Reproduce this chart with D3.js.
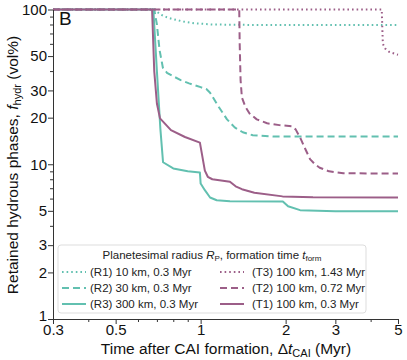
<!DOCTYPE html>
<html><head><meta charset="utf-8">
<script src="https://cdn.jsdelivr.net/npm/d3@7"></script>
<style>body{margin:0;background:#fff}svg{display:block;font-family:"Liberation Sans",Arial,sans-serif}</style>
</head><body><svg id="c" width="407" height="360"></svg>
<script>
// Data (time in Myr after CAI, retained hydrous phases in vol%)
const r1T = [0.3,0.69,0.70,0.72,0.76,0.80,0.87,0.95,1.1,1.5,5];
const r1V = [100,100,97,93,89,86.5,83.5,81.5,80,79.5,79.3];
const r2T = [0.3,0.685,0.70,0.715,0.735,0.76,0.80,0.85,0.91,1.0,1.05,1.08,1.15,1.24,1.32,1.41,1.53,1.8,5];
const r2V = [100,100,80,55,42,39,37,35,33.3,31.5,30.5,29,24,19.5,17.3,16.1,15.4,15.1,15.1];
const r3T = [0.3,0.68,0.70,0.72,0.736,0.80,0.90,0.994,1.0,1.035,1.08,1.14,1.27,1.955,2.04,2.25,3,5];
const r3V = [100,100,40,17,10.3,9.4,9.0,8.83,7.5,6.8,6.1,5.85,5.77,5.75,5.35,5.05,4.97,4.97];
const t3T = [0.3,4.38,4.40,4.42,4.5,4.67,5];
const t3V = [100,100,75,60,56,53,51];
const t2T = [0.3,1.37,1.375,1.385,1.40,1.44,1.49,1.58,1.72,1.9,2.1,2.17,2.25,2.35,2.44,2.54,2.64,2.85,3.2,5];
const t2V = [100,100,60,35,27,23.5,21.3,19.5,18.4,17.9,17.6,16.8,14.9,12.5,10.8,10,9.5,9.0,8.75,8.7];
const t1T = [0.3,0.673,0.685,0.70,0.718,0.785,0.88,0.994,1.01,1.035,1.06,1.1,1.27,1.33,1.4,1.55,1.95,2.5,5];
const t1V = [100,100,40,24.7,19.8,16.6,15,13.8,11.7,9.1,8.3,8.0,7.7,7.2,6.9,6.55,6.2,6.12,6.1];
const seriesNames = ["(R1) 10 km, 0.3 Myr","(R2) 30 km, 0.3 Myr","(R3) 300 km, 0.3 Myr","(T3) 100 km, 1.43 Myr","(T2) 100 km, 0.72 Myr","(T1) 100 km, 0.3 Myr"];
const xTicks = [0.3,0.5,1,2,3,5];
const xMinor = [0.4,0.6,0.7,0.8,0.9,4];
const yTicks = [1,2,3,5,10,20,30,50,100];
const yMinor = [4,6,7,8,9,40,60,70,80,90];

const teal = "#62c0b0", purple = "#9c5e88";
const styles = [
  {c:teal, d:"1.6,3"},{c:teal, d:"7,4"},{c:teal, d:null},
  {c:purple, d:"1.6,3"},{c:purple, d:"7,4"},{c:purple, d:null}
];
const series = [[r1T,r1V],[r2T,r2V],[r3T,r3V],[t3T,t3V],[t2T,t2V],[t1T,t1V]];

const svg = d3.select("#c");
const L=53, R=398, T=9.5, B=319;
const x = d3.scaleLog().domain([0.3,5]).range([L,R]);
const y = d3.scaleLog().domain([1,100]).range([B,T]);

const line = d3.line().x(d=>x(d[0])).y(d=>y(d[1]));
series.forEach((s,i)=>{
  const pts = s[0].map((t,j)=>[t,s[1][j]]);
  svg.append("path").attr("d",line(pts)).attr("fill","none")
    .attr("stroke",styles[i].c).attr("stroke-width",2)
    .attr("stroke-dasharray",styles[i].d).attr("stroke-linejoin","round");
});

// axes
const ax = svg.append("g").attr("transform",`translate(0,${B})`)
  .call(d3.axisBottom(x).tickValues(xTicks).tickFormat(d3.format("")).tickSize(5).tickSizeOuter(0));
svg.append("g").attr("transform",`translate(0,${B})`)
  .call(d3.axisBottom(x).tickValues(xMinor).tickFormat("").tickSize(3).tickSizeOuter(0))
  .select(".domain").remove();
const ay = svg.append("g").attr("transform",`translate(${L},0)`)
  .call(d3.axisLeft(y).tickValues(yTicks).tickFormat(d3.format("")).tickSize(5).tickSizeOuter(0));
svg.append("g").attr("transform",`translate(${L},0)`)
  .call(d3.axisLeft(y).tickValues(yMinor).tickFormat("").tickSize(3).tickSizeOuter(0))
  .select(".domain").remove();
svg.selectAll(".tick line").attr("stroke","#333");
svg.selectAll(".domain").attr("stroke","#333");
ax.selectAll("text").attr("font-size",15).attr("fill","#111").attr("dy","0.8em").attr("y",4);
ay.selectAll("text").attr("font-size",15).attr("fill","#111").attr("x",-6);
ay.selectAll(".tick").filter(d=>d===1).select("text").attr("dy","0.1em");

// panel label
svg.append("text").attr("x",59).attr("y",25).attr("font-size",19).attr("fill","#111").text("B");

// axis titles
const xl = svg.append("text").attr("x",226).attr("y",354).attr("text-anchor","middle").attr("font-size",15.5).attr("fill","#111");
xl.append("tspan").text("Time after CAI formation, \u0394");
xl.append("tspan").attr("font-style","italic").text("t");
xl.append("tspan").attr("font-size",11).attr("dy",3).text("CAI");
xl.append("tspan").attr("dy",-3).text(" (Myr)");

const yl = svg.append("text").attr("transform","translate(18,165) rotate(-90)").attr("text-anchor","middle").attr("font-size",15.5).attr("fill","#111");
yl.append("tspan").text("Retained hydrous phases, ");
yl.append("tspan").attr("font-style","italic").text("f");
yl.append("tspan").attr("font-size",11).attr("dy",3).text("hydr");
yl.append("tspan").attr("dy",-3).text(" (vol%)");

// legend
const lg = svg.append("g");
lg.append("rect").attr("x",58).attr("y",245).attr("width",308).attr("height",68).attr("rx",3)
  .attr("fill","rgba(255,255,255,0.85)").attr("stroke","#ddd").attr("stroke-width",1);
const lt = lg.append("text").attr("x",212).attr("y",259).attr("text-anchor","middle").attr("font-size",11.5).attr("fill","#222");
lt.append("tspan").text("Planetesimal radius ");
lt.append("tspan").attr("font-style","italic").text("R");
lt.append("tspan").attr("font-size",8).attr("dy",2).text("P");
lt.append("tspan").attr("dy",-2).text(", formation time ");
lt.append("tspan").attr("font-style","italic").text("t");
lt.append("tspan").attr("font-size",8).attr("dy",2).text("form");
const ry = [272,288,304];
seriesNames.forEach((n,i)=>{
  const col = i<3?0:1;
  const row = i<3?i:(i-3);
  const lx = col===0?62:220, tx = col===0?90:252;
  const yy = ry[row];
  lg.append("line").attr("x1",lx).attr("x2",lx+24).attr("y1",yy).attr("y2",yy)
    .attr("stroke",styles[i].c).attr("stroke-width",2).attr("stroke-dasharray",styles[i].d);
  lg.append("text").attr("x",tx).attr("y",yy+4).attr("font-size",11.5).attr("fill","#222").text(n);
});
</script></body></html>
